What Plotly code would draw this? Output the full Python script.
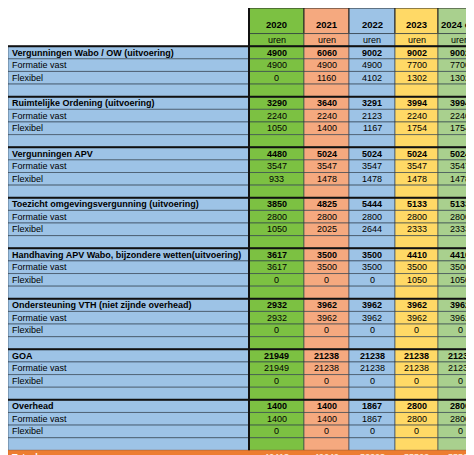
import plotly.graph_objects as go

years = ["2020", "2021", "2022", "2023", "2024 e.v."]
groups = ["Vergunningen Wabo / OW (uitvoering)", "Ruimtelijke Ordening (uitvoering)", "Vergunningen APV",
          "Toezicht omgevingsvergunning (uitvoering)", "Handhaving APV Wabo, bijzondere wetten(uitvoering)",
          "Ondersteuning VTH (niet zijnde overhead)", "GOA", "Overhead"]
totals = [[4900, 6060, 9002, 9002, 9002], [3290, 3640, 3291, 3994, 3994], [4480, 5024, 5024, 5024, 5024],
          [3850, 4825, 5444, 5133, 5133], [3617, 3500, 3500, 4410, 4410], [2932, 3962, 3962, 3962, 3962],
          [21949, 21238, 21238, 21238, 21238], [1400, 1400, 1867, 2800, 2800]]
vast = [[4900, 4900, 4900, 7700, 7700], [2240, 2240, 2123, 2240, 2240], [3547] * 5, [2800] * 5,
        [3617, 3500, 3500, 3500, 3500], [2932, 3962, 3962, 3962, 3962], [21949, 21238, 21238, 21238, 21238],
        [1400, 1400, 1867, 2800, 2800]]
flex = [[0, 1160, 4102, 1302, 1302], [1050, 1400, 1167, 1754, 1754], [933, 1478, 1478, 1478, 1478],
        [1050, 2025, 2644, 2333, 2333], [0, 0, 0, 1050, 1050], [0] * 5, [0] * 5, [0] * 5]
grand_total = [46418, 49649, 53328, 55563, 55563]

col_colors = ["#7CC142", "#F5A97F", "#9DC3E6", "#FFD966", "#A9D08E"]
label_color = "#9DC3E6"
total_color = "#ED7D31"
FONT = "Liberation Sans"

# column geometry (layout only)
widths = [241, 55, 45, 46, 43, 44]
edges = [0]
for w in widths:
    edges.append(edges[-1] + w)
HEAD = 25.5
RH = 12.6

# build rows: (kind, label, values)
rows = [("uren", "", ["uren"] * 5)]
for g, t, v, f in zip(groups, totals, vast, flex):
    rows.append(("title", g, [str(x) for x in t]))
    rows.append(("sub", "Formatie vast", [str(x) for x in v]))
    rows.append(("sub", "Flexibel", [str(x) for x in f]))
    rows.append(("blank", "", [""] * 5))
rows.append(("total", "Totaal", [str(x) for x in grand_total]))

shapes, ann = [], []
def rect(x0, x1, y0, y1, color, lw=0.6, lc="#2b3a4a"):
    shapes.append(dict(type="rect", x0=x0, x1=x1, y0=y0, y1=y1, fillcolor=color,
                       line=dict(color=lc, width=lw), layer="below"))

# header
for i, y in enumerate(years):
    rect(edges[i + 1], edges[i + 2], 0, HEAD, col_colors[i], 1, "#222")
    ann.append(dict(x=(edges[i + 1] + edges[i + 2]) / 2, y=HEAD * 0.66, text=f"<b>{y}</b>",
                    showarrow=False, font=dict(family=FONT, size=9.5, color="black")))

for r, (kind, label, vals) in enumerate(rows):
    y0 = HEAD + r * RH
    y1 = y0 + RH
    yc = (y0 + y1) / 2
    if kind == "total":
        rect(0, edges[-1], y0, y1, total_color, 0.6, "#d0661f")
    else:
        if kind != "uren":
            rect(0, edges[1], y0, y1, label_color)
        for i in range(5):
            rect(edges[i + 1], edges[i + 2], y0, y1, col_colors[i])
    if kind == "title":
        shapes.append(dict(type="line", x0=0, x1=edges[-1], y0=y0, y1=y0, line=dict(color="#111", width=2)))
    tc = "white" if kind == "total" else "black"
    bold = kind in ("title", "total")
    if label:
        ann.append(dict(x=2, y=yc, text=f"<b>{label}</b>" if bold else label, xanchor="left",
                        showarrow=False, font=dict(family=FONT, size=9, color=tc)))
    for i, v in enumerate(vals):
        if v:
            ann.append(dict(x=(edges[i + 1] + edges[i + 2]) / 2, y=yc, text=f"<b>{v}</b>" if bold else v,
                            showarrow=False, font=dict(family=FONT, size=9, color=tc if kind != "total" else "#fde0c8")))

# thick vertical separator at label column edge
shapes.append(dict(type="line", x0=edges[1], x1=edges[1], y0=0, y1=HEAD + (len(rows) - 1) * RH,
                   line=dict(color="#111", width=2)))

fig = go.Figure()
fig.update_layout(width=474, height=455, margin=dict(l=0, r=0, t=0, b=0), paper_bgcolor="white",
                  plot_bgcolor="white", shapes=shapes, annotations=ann, showlegend=False,
                  xaxis=dict(range=[0, edges[-1]], visible=False, fixedrange=True),
                  yaxis=dict(range=[HEAD + len(rows) * RH, 0], visible=False, fixedrange=True))
fig.write_html("out.html", config={"displayModeBar": False})
